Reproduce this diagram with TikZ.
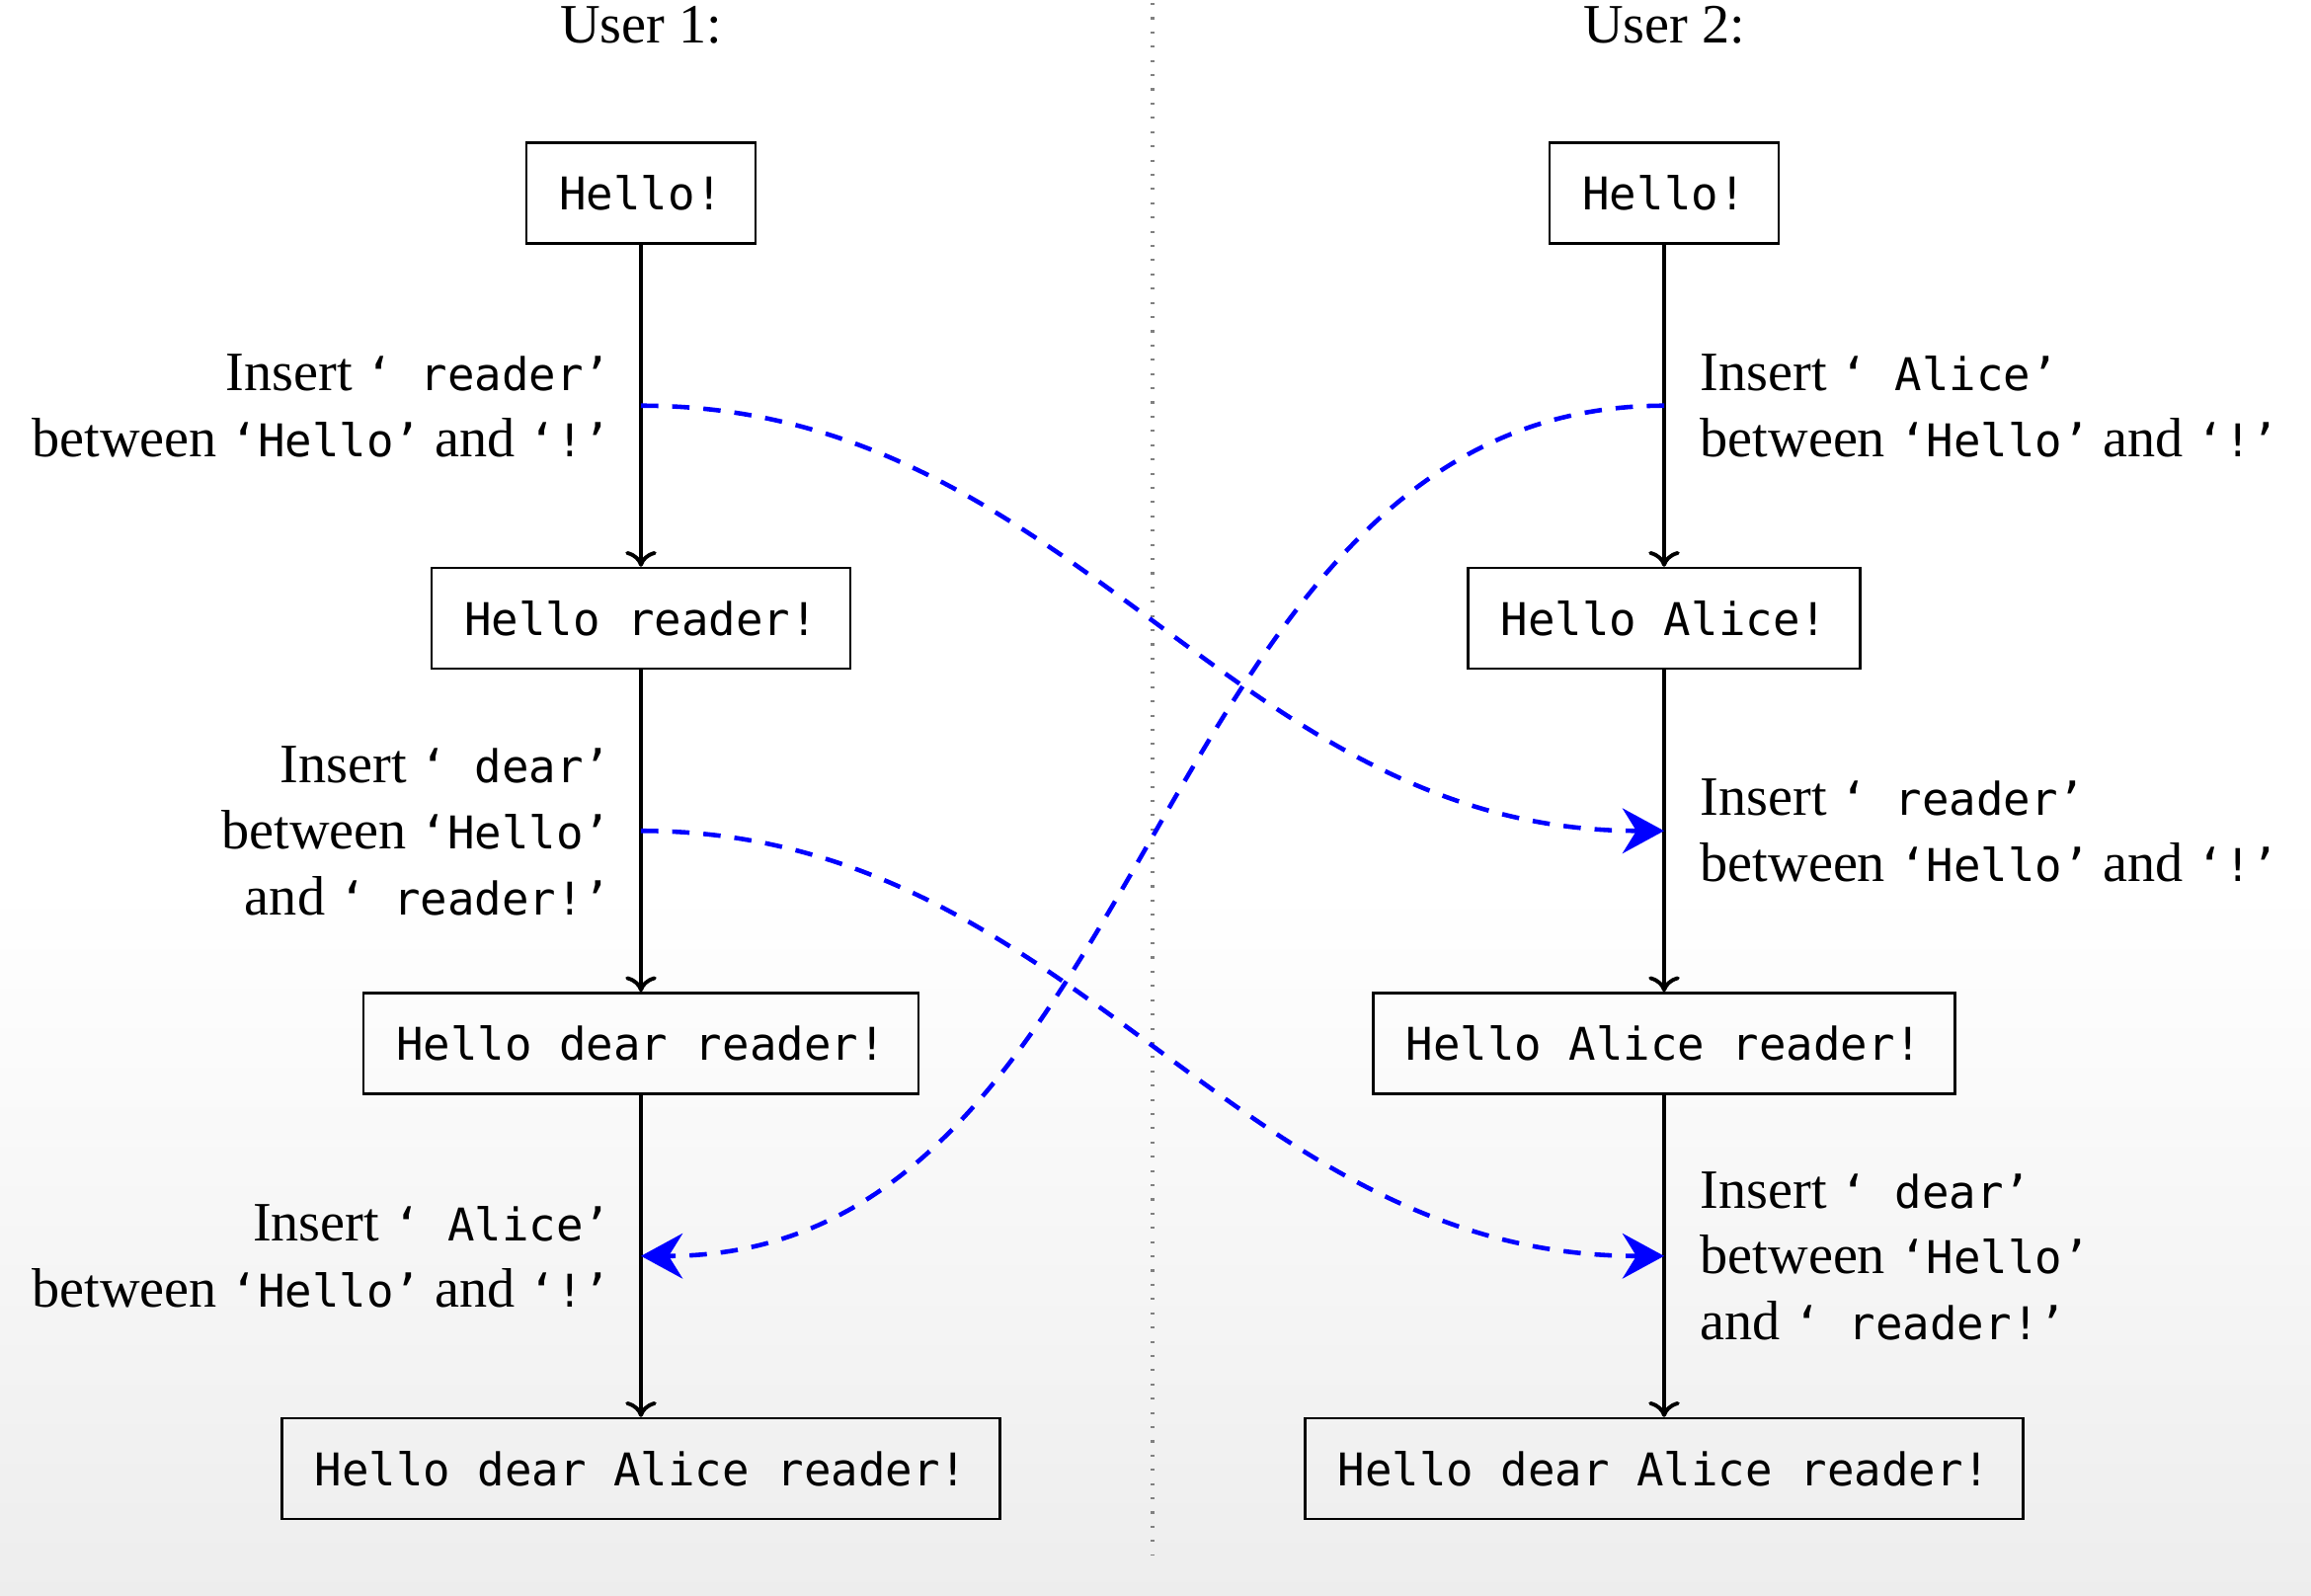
\documentclass[tikz,border=0pt]{standalone}
\usepackage{fontspec}
\setmainfont{Liberation Serif}
\setmonofont[Scale=0.8125]{DejaVu Sans Mono}
\usetikzlibrary{positioning,arrows.meta}
\newcommand{\docsize}{\fontsize{16}{19}\selectfont}
\newcommand{\quo}[1]{\texttt{‘#1’}}
\tikzset{
  doc/.style={draw, line width=0.7pt, inner xsep=9.5pt, inner ysep=0pt,
    minimum height=1.02cm, text depth=0pt, font=\docsize\ttfamily},
  flow/.style={line width=1.1pt, -{To[width=9pt,length=4.5pt]}},
  opl/.style={inner sep=0pt, align=right},
  opr/.style={inner sep=0pt, align=left},
  sync/.style={blue, line width=1.3pt, dash pattern=on 5pt off 4pt,
    -{Stealth[width=13pt,length=12pt,inset=4pt]}},
}
\begin{document}
\begin{tikzpicture}[font=\docsize]
% page and grey fade at the bottom
\fill[white] (0,0) rectangle (23.4,-16.16);
\shade[top color=white, bottom color=black!7] (0,-9) rectangle (23.4,-16.16);
\useasboundingbox (0,0) rectangle (23.4,-16.16);

% divider
\coordinate (divtop) at (11.67,-0.03);
\coordinate (divbot) at (11.67,-15.74);
\draw[gray, line width=0.9pt, dash pattern=on 0.6pt off 3.5pt] (divtop) -- (divbot);

\node (user1) at (6.49,-0.25) {User 1:};
\node (user2) at (16.85,-0.25) {User 2:};

% user 1
\node[doc] (u1a) at (6.49,-1.955) {Hello!};
\node[doc] (u1b) at (6.49,-6.26) {Hello reader!};
\node[doc] (u1c) at (6.49,-10.565) {Hello dear reader!};
\node[doc] (u1d) at (6.49,-14.87) {Hello dear Alice reader!};
\draw[flow] (u1a) -- coordinate (u1ab) (u1b);
\draw[flow] (u1b) -- coordinate (u1bc) (u1c);
\draw[flow] (u1c) -- coordinate (u1cd) (u1d);
\node[opl, left=0.3cm of u1ab] (op1ab) {Insert \quo{\ reader}\\between \quo{Hello} and \quo{!}};
\node[opl, left=0.3cm of u1bc] (op1bc) {Insert \quo{\ dear}\\between \quo{Hello}\\and \quo{\ reader!}};
\node[opl, left=0.3cm of u1cd] (op1cd) {Insert \quo{\ Alice}\\between \quo{Hello} and \quo{!}};

% user 2
\node[doc] (u2a) at (16.85,-1.955) {Hello!};
\node[doc] (u2b) at (16.85,-6.26) {Hello Alice!};
\node[doc] (u2c) at (16.85,-10.565) {Hello Alice reader!};
\node[doc] (u2d) at (16.85,-14.87) {Hello dear Alice reader!};
\draw[flow] (u2a) -- coordinate (u2ab) (u2b);
\draw[flow] (u2b) -- coordinate (u2bc) (u2c);
\draw[flow] (u2c) -- coordinate (u2cd) (u2d);
\node[opr, right=0.36cm of u2ab] (op2ab) {Insert \quo{\ Alice}\\between \quo{Hello} and \quo{!}};
\node[opr, right=0.36cm of u2bc] (op2bc) {Insert \quo{\ reader}\\between \quo{Hello} and \quo{!}};
\node[opr, right=0.36cm of u2cd] (op2cd) {Insert \quo{\ dear}\\between \quo{Hello}\\and \quo{\ reader!}};

% operations sent to the other user
\draw[sync] (u1ab) to[out=0, in=180] (u2bc);
\draw[sync] (u1bc) to[out=0, in=180] (u2cd);
\draw[sync] (u2ab) to[out=180, in=0] (u1cd);
\end{tikzpicture}
\end{document}
